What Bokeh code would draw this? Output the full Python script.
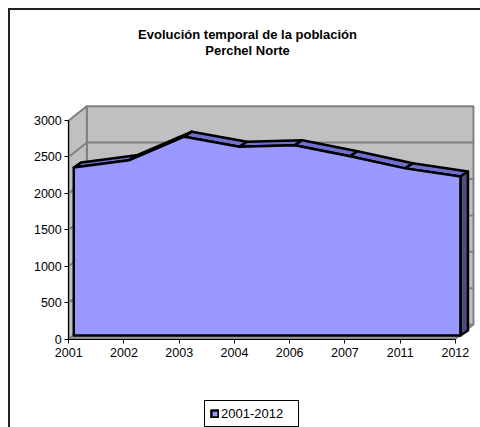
from bokeh.plotting import figure
from bokeh.models import Range1d, FixedTicker, Label, Legend, LegendItem
from bokeh.embed import file_html
from bokeh.resources import INLINE

# ---------------- data ----------------
years = ["2001", "2002", "2003", "2004", "2006", "2007", "2011", "2012"]
population = [2308, 2405, 2730, 2591, 2612, 2460, 2295, 2184]
y_ticks = [0, 500, 1000, 1500, 2000, 2500, 3000]
series_name = "2001-2012"
title_lines = ["Evolución temporal de la población", "Perchel Norte"]

# ---------------- layout ----------------
W, H = 472, 419            # incl. 2px border (top/left)
CW, CH = W - 2, H - 2      # drawing canvas
X0_PX, Y0_PX = 58, 327     # canvas position of the axes origin
PX_X = 55.0                # px per category
Y_TOP = y_ticks[-1]
PX_Y = 217.5 / Y_TOP       # px per unit

# 3D offsets (px -> data)
WALL_DX, WALL_DY = 18 / PX_X, 14.3 / PX_Y
FRONT_DX, FRONT_DY = 5 / PX_X, 3.5 / PX_Y
DEPTH_DX, DEPTH_DY = 7.5 / PX_X, 5 / PX_Y

FONT = "Liberation Sans"

p = figure(width=W, height=H, output_backend="svg", toolbar_location=None,
           x_range=Range1d(-X0_PX / PX_X, (CW - X0_PX) / PX_X),
           y_range=Range1d(-(CH - Y0_PX) / PX_Y, Y0_PX / PX_Y),
           min_border=0, title=None,
           styles={"border-top": "2px solid #222", "border-left": "2px solid #222",
                   "margin-left": "8px", "margin-top": "8px"})
p.outline_line_color = None
p.background_fill_color = "white"
p.border_fill_color = "white"
p.xgrid.visible = False
p.ygrid.visible = False

n = len(years)
xi = list(range(n))
last = n - 1

WALL_FILL = "#c0c0c0"
WALL_LINE = "#808080"

# back wall
p.patch([WALL_DX, last + WALL_DX, last + WALL_DX, WALL_DX],
        [WALL_DY, WALL_DY, Y_TOP + WALL_DY, Y_TOP + WALL_DY],
        fill_color=WALL_FILL, line_color=WALL_LINE, line_width=2)
# left side wall
p.patch([0, WALL_DX, WALL_DX, 0],
        [0, WALL_DY, Y_TOP + WALL_DY, Y_TOP],
        fill_color=WALL_FILL, line_color=WALL_LINE, line_width=2)
# floor
p.patch([0, last, last + WALL_DX, WALL_DX],
        [0, 0, WALL_DY, WALL_DY],
        fill_color="#9a9a9a", line_color=WALL_LINE, line_width=1.5)
# gridlines on walls
for v in y_ticks[1:-1]:
    p.line([0, WALL_DX, last + WALL_DX], [v, v + WALL_DY, v + WALL_DY],
           line_color=WALL_LINE, line_width=2)

# area top strips
sx, sy = [], []
for i in range(n - 1):
    x0, x1 = xi[i] + FRONT_DX, xi[i + 1] + FRONT_DX
    y0, y1 = population[i] + FRONT_DY, population[i + 1] + FRONT_DY
    sx.append([x0, x1, x1 + DEPTH_DX, x0 + DEPTH_DX])
    sy.append([y0, y1, y1 + DEPTH_DY, y0 + DEPTH_DY])
p.patches(sx, sy, fill_color="#7070d0", line_color="black", line_width=2.5,
          line_join="round")

# right side face
rx = last + FRONT_DX
p.patch([rx, rx, rx + DEPTH_DX, rx + DEPTH_DX],
        [FRONT_DY, population[-1] + FRONT_DY, population[-1] + FRONT_DY + DEPTH_DY,
         FRONT_DY + DEPTH_DY],
        fill_color="#4d4d80", line_color="black", line_width=2.5, line_join="round")

# front face
fx = [x + FRONT_DX for x in xi]
fy = [v + FRONT_DY for v in population]
front = p.patch([fx[0]] + fx + [fx[-1]], [FRONT_DY] + fy + [FRONT_DY],
                fill_color="#9999ff", line_color="black", line_width=2.5,
                line_join="round")

# axes (drawn at the data origin inside the frame)
for ax in (p.xaxis[0], p.yaxis[0]):
    ax.fixed_location = 0
    ax.axis_line_color = "black"
    ax.major_tick_line_color = "black"
    ax.major_tick_out = 4
    ax.major_tick_in = 0
    ax.minor_tick_line_color = None
    ax.major_label_text_font = FONT
    ax.major_label_text_font_size = "12.5px"
    ax.major_label_text_color = "black"
p.xaxis[0].ticker = FixedTicker(ticks=xi)
p.xaxis[0].major_label_overrides = {i: y for i, y in enumerate(years)}
p.xaxis[0].bounds = (0, last)
p.xaxis[0].major_label_standoff = 5
p.yaxis[0].ticker = FixedTicker(ticks=y_ticks)
p.yaxis[0].bounds = (0, Y_TOP)
p.yaxis[0].major_label_standoff = 3

# title (two centred lines)
TITLE_CX = 237
for txt, yy in zip(title_lines, [CH - 21.7, CH - 38.3]):
    p.add_layout(Label(x=TITLE_CX, y=yy, x_units="screen", y_units="screen",
                       text=txt, text_align="center", text_baseline="middle",
                       text_font=FONT, text_font_style="bold",
                       text_font_size="13px", text_color="black"))

# legend
legend = Legend(items=[LegendItem(label=series_name, renderers=[front])],
                location=(194, 2), orientation="vertical",
                label_text_font=FONT, label_text_font_size="13px",
                label_text_color="black",
                glyph_width=9, glyph_height=9, label_standoff=2,
                label_height=13, label_width=72, padding=5, margin=0, spacing=0,
                border_line_color="black", border_line_width=1,
                border_line_alpha=1.0,
                background_fill_color="white", background_fill_alpha=1)
p.add_layout(legend, "center")

open("out.html", "w").write(file_html(p, INLINE))
